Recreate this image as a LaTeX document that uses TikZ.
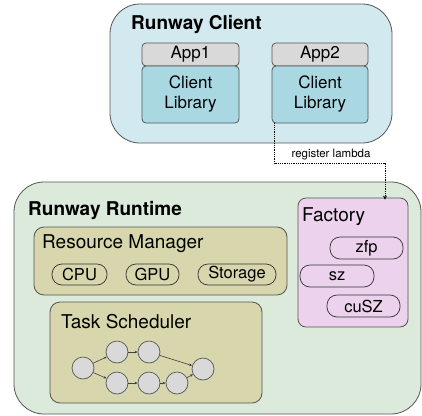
\documentclass[tikz,border=0pt]{standalone}
\usepackage{fontspec}
\setmainfont{TeX Gyre Heros}
\usetikzlibrary{arrows.meta}
\definecolor{clientbg}{HTML}{D2E9F0}
\definecolor{appgray}{HTML}{D9D9D9}
\definecolor{libblue}{HTML}{A9D8E3}
\definecolor{runtimebg}{HTML}{DBEADB}
\definecolor{olivebg}{HTML}{D7D6AD}
\definecolor{factorybg}{HTML}{ECD2EC}
\definecolor{edgegray}{HTML}{555555}
\begin{document}
\begin{tikzpicture}[x=1pt,y=-1pt,
  box/.style={draw=edgegray, line width=0.8pt, rounded corners=#1, inner sep=0pt},
  box/.default=4pt,
  pill/.style={draw=black!80, line width=0.7pt, rounded corners=10pt, minimum height=22pt, inner sep=0pt, font=\fontsize{16.5}{18}\selectfont},
  ttl/.style={anchor=west, inner sep=0pt, font=\fontsize{19}{21}\selectfont\bfseries},
  sub/.style={anchor=west, inner sep=0pt, font=\fontsize{19}{21}\selectfont},
  dag/.style={circle, draw=edgegray, line width=0.7pt, fill=appgray, minimum size=22pt, inner sep=0pt},
  dagarrow/.style={-{Stealth[length=3pt,width=2.6pt]}, line width=0.6pt, draw=black!75},
  apptext/.style={font=\fontsize{17}{20}\selectfont, align=center}
]
\useasboundingbox (0,0) rectangle (422,415);

% Client
\node[box=30pt, fill=clientbg, minimum width=282pt, minimum height=139pt] (client) at (251,73.5) {};
\node[ttl] (clientt) at (131,25) {Runway Client};
\node[box, fill=appgray, minimum width=97pt, minimum height=23pt, apptext] (app1) at (190.5,54.5) {App1};
\node[box, fill=libblue, minimum width=97pt, minimum height=57pt, apptext] (lib1) at (190.5,94.5) {Client\\Library};
\node[box, fill=appgray, minimum width=96pt, minimum height=23pt, apptext] (app2) at (320,54.5) {App2};
\node[box, fill=libblue, minimum width=96pt, minimum height=57pt, apptext] (lib2) at (320,94.5) {Client\\Library};

% Runtime
\node[box=30pt, fill=runtimebg, minimum width=407pt, minimum height=232pt] (runtime) at (217.5,298) {};
\node[ttl] (runtimet) at (28,210) {Runway Runtime};

% Factory
\node[box=8pt, fill=factorybg, minimum width=110pt, minimum height=129pt] (factory) at (353,262.5) {};
\node[sub] (factoryt) at (302,217) {Factory};
\node[pill, fill=factorybg, minimum width=73pt] (zfp) at (366.5,248) {zfp\hspace{3pt}};
\node[pill, fill=factorybg, minimum width=74pt] (sz) at (337,276) {sz\hspace{13pt}};
\node[pill, fill=factorybg, minimum width=73pt] (cusz) at (363.5,306) {cuSZ\hspace{10pt}};

% Resource manager
\node[box=10pt, fill=olivebg, minimum width=253pt, minimum height=68pt] (rm) at (160.5,261) {};
\node[sub] (rmt) at (42,244) {Resource Manager};
\node[pill, fill=olivebg, minimum width=55pt, minimum height=21pt] (cpu) at (79.5,274.5) {CPU};
\node[pill, fill=olivebg, minimum width=53pt, minimum height=21pt] (gpu) at (152.5,274.5) {GPU};
\node[pill, fill=olivebg, minimum width=78pt, minimum height=21pt] (storage) at (237,274.5) {Storage};

% Task scheduler
\node[box=10pt, fill=olivebg, minimum width=212pt, minimum height=101pt] (ts) at (156,352.5) {};
\node[sub] (tst) at (61,322) {Task Scheduler};
\node[dag] (c1) at (83,368) {};
\node[dag] (c2) at (117,352) {};
\node[dag] (c3) at (149,352) {};
\node[dag] (c4) at (203,369) {};
\node[dag] (c5) at (117,383) {};
\node[dag] (c6) at (149,383) {};
\node[dag] (c7) at (177,383) {};
\draw[dagarrow] (c1) -- (c2);
\draw[dagarrow] (c1) -- (c5);
\draw[dagarrow] (c2) -- (c3);
\draw[dagarrow] (c3) -- (c4);
\draw[dagarrow] (c5) -- (c6);
\draw[dagarrow] (c6) -- (c7);
\draw[dagarrow] (c7) -- (c4);

% register lambda connector
\coordinate (start) at ([xshift=3pt]lib2.south west);
\coordinate (bend) at (385,163);
\draw[densely dotted, line width=0.8pt, -{Stealth[length=4pt,width=4pt]}] (start) |- (bend) -- ([yshift=-2pt]factory.north -| bend);
\node[font=\fontsize{11.5}{13}\selectfont, inner sep=0pt] (lbl) at (331,155) {register lambda};
\end{tikzpicture}
\end{document}
